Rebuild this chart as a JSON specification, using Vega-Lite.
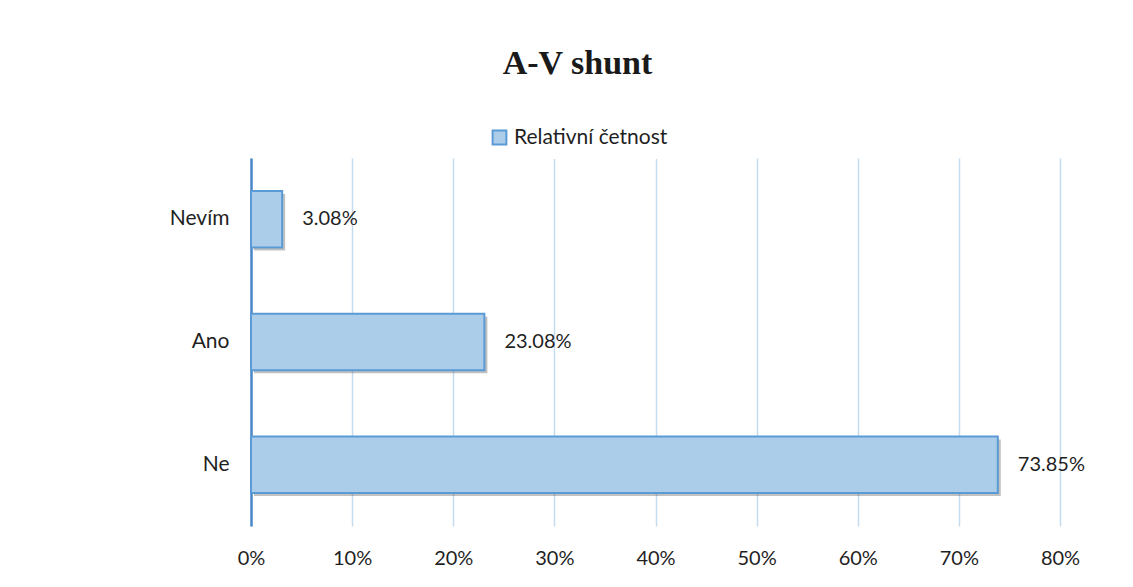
{
  "$schema": "https://vega.github.io/schema/vega-lite/v6.json",
  "autosize": "none",
  "width": 809,
  "height": 368,
  "padding": {"left": 251, "top": 158, "right": 73, "bottom": 61},
  "background": "white",
  "config": {"view": {"stroke": null}},
  "title": {
    "text": "A-V shunt",
    "font": "Liberation Serif",
    "fontSize": 34,
    "fontWeight": "bold",
    "color": "#1a1a1a",
    "anchor": "middle",
    "dx": -78,
    "offset": 36
  },
  "data": {
    "values": [
      {"answer": "Nevím", "share": 0.0308, "series": "Relativní četnost"},
      {"answer": "Ano", "share": 0.2308, "series": "Relativní četnost"},
      {"answer": "Ne", "share": 0.7385, "series": "Relativní četnost"}
    ]
  },
  "encoding": {
    "y": {
      "field": "answer",
      "type": "nominal",
      "sort": ["Nevím", "Ano", "Ne"],
      "scale": {"paddingInner": 0.54, "paddingOuter": 0.27},
      "axis": {
        "title": null,
        "ticks": false,
        "domain": true,
        "domainColor": "#4a89c8",
        "domainWidth": 2.5,
        "labelFont": "Lato",
        "labelFontSize": 21,
        "labelColor": "#1f1f1f",
        "labelPadding": 22
      }
    },
    "x": {
      "field": "share",
      "type": "quantitative",
      "scale": {"domain": [0, 0.8], "nice": false},
      "axis": {
        "title": null,
        "values": [0, 0.1, 0.2, 0.3, 0.4, 0.5, 0.6, 0.7, 0.8],
        "format": ".0%",
        "labelFlush": false,
        "grid": true,
        "gridColor": "#c5dcf0",
        "gridWidth": 1.5,
        "ticks": false,
        "domain": false,
        "labelFont": "Lato",
        "labelFontSize": 20,
        "labelColor": "#1f1f1f",
        "labelPadding": 22
      }
    }
  },
  "layer": [
    {
      "mark": {"type": "bar", "fill": "#333333", "opacity": 0.3, "xOffset": 3, "yOffset": 3}
    },
    {
      "mark": {"type": "bar", "fill": "#abcde9", "stroke": "#5b9bd5", "strokeWidth": 2},
      "encoding": {
        "fill": {
          "field": "series",
          "type": "nominal",
          "scale": {"range": ["#abcde9"]},
          "legend": {
            "title": null,
            "orient": "none",
            "legendX": 228,
            "legendY": -41,
            "padding": 10,
            "fillColor": "white",
            "symbolType": "square",
            "symbolSize": 190,
            "symbolStrokeColor": "#5b9bd5",
            "symbolStrokeWidth": 2,
            "labelFont": "Lato",
            "labelFontSize": 21,
            "labelColor": "#1f1f1f"
          }
        }
      }
    },
    {
      "mark": {"type": "text", "align": "left", "dx": 20, "font": "Lato", "fontSize": 20, "color": "#1f1f1f"},
      "encoding": {
        "text": {"field": "share", "type": "quantitative", "format": ".2%"}
      }
    }
  ]
}
